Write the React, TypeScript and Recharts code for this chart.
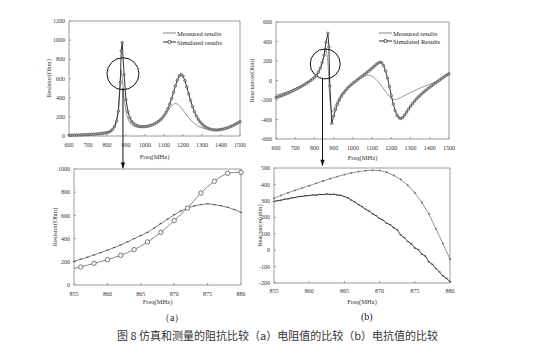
import {
  LineChart,
  Line,
  XAxis,
  YAxis,
  ReferenceArea,
  ReferenceDot,
  ReferenceLine,
  Legend,
} from "recharts";

const W = 533;
const H = 356;
const serif = "'Liberation Serif', 'DejaVu Serif', serif";

// ---- top row: 600-1500 MHz sweep ----
const freqTop = [
  600, 610, 620, 630, 640, 650, 660, 670, 680, 690,
  700, 710, 720, 730, 740, 750, 760, 770, 780, 790,
  800, 810, 820, 830, 840, 850, 860, 870, 875,
  880, 890, 900, 910, 920, 930, 940, 950, 960, 970, 980, 990,
  1000, 1010, 1020, 1030, 1040, 1050, 1060, 1070, 1080, 1090,
  1100, 1110, 1120, 1130, 1140, 1150, 1160, 1170, 1180, 1190,
  1200, 1210, 1220, 1230, 1240, 1250, 1260, 1270, 1280, 1290,
  1300, 1310, 1320, 1330, 1340, 1350, 1360, 1370, 1380, 1390,
  1400, 1410, 1420, 1430, 1440, 1450, 1460, 1470, 1480, 1490,
  1500,
];

const resMeasured = [
  5, 6, 6, 7, 8, 8, 9, 10, 11, 12,
  13, 14, 15, 17, 18, 20, 22, 25, 28, 31,
  35, 40, 50, 66, 95, 150, 270, 600, 690,
  620, 400, 255, 180, 140, 117, 104, 96, 92, 90, 90, 91,
  94, 98, 103, 110, 118, 128, 140, 154, 170, 190,
  212, 236, 262, 290, 314, 332, 340, 334, 318, 296,
  270, 243, 216, 191, 168, 148, 131, 116, 104, 94,
  86, 79, 74, 70, 68, 66, 65, 65, 66, 68,
  70, 74, 78, 84, 90, 98, 106, 115, 125, 135,
  145,
];

const resSimulated = [
  8, 8, 9, 9, 10, 10, 11, 12, 13, 14,
  15, 16, 17, 18, 20, 22, 24, 26, 29, 32,
  36, 42, 52, 70, 100, 155, 260, 560, 890,
  975, 640, 380, 255, 190, 152, 130, 116, 107, 101, 98, 97,
  98, 101, 105, 111, 118, 127, 138, 151, 167, 187,
  212, 244, 284, 332, 390, 455, 522, 584, 627, 643,
  625, 578, 512, 440, 370, 307, 254, 210, 175, 147,
  125, 107, 93, 82, 74, 68, 65, 63, 63, 65,
  68, 72, 77, 83, 90, 98, 107, 117, 127, 138,
  150,
];

const reactMeasured = [
  -150, -145, -140, -134, -128, -122, -115, -108, -100, -92,
  -84, -75, -66, -56, -46, -35, -23, -10, 4, 19,
  36, 56, 82, 118, 170, 255, 333, 192, 14,
  -191, -330, -300, -252, -208, -172, -142, -117, -96, -78, -61, -45,
  -30, -16, -3, 10, 22, 34, 45, 53, 56, 53,
  44, 30, 12, -9, -32, -57, -85, -114, -142, -166,
  -184, -194, -196, -192, -184, -174, -163, -153, -143, -133,
  -123, -113, -104, -95, -86, -78, -70, -62, -54, -46,
  -38, -30, -22, -13, -3, 8, 19, 30, 41, 52,
  62,
];

const reactSimulated = [
  -175, -169, -162, -155, -147, -139, -131, -122, -113, -103,
  -93, -83, -73, -62, -51, -39, -27, -14, 0, 15,
  32, 55, 85, 125, 185, 260, 392, 485, 348,
  -55, -440, -365, -300, -245, -200, -163, -132, -106, -84, -64, -46,
  -29, -13, 2, 17, 32, 47, 62, 78, 94, 110,
  127, 144, 161, 177, 188, 182, 152, 98, 25, -62,
  -155, -242, -310, -357, -383, -390, -378, -353, -323, -292,
  -263, -237, -213, -191, -170, -151, -133, -116, -100, -84,
  -69, -54, -39, -25, -11, 3, 17, 31, 45, 58,
  70,
];

// ---- bottom row: 855-880 MHz zoom ----
const freqZoom = [
  855, 856, 857, 858, 859, 860, 861, 862, 863, 864, 865, 866, 867,
  868, 869, 870, 871, 872, 873, 874, 875, 876, 877, 878, 879, 880,
];
const resSimZoom = [
  144, 155, 171, 187, 202, 218, 236, 256, 279, 305, 336, 371, 410,
  454, 503, 555, 609, 664, 728, 793, 848, 894, 935, 963, 970, 971,
];
const resMeasZoom = [
  204, 222, 240, 259, 279, 300, 322, 346, 372, 400, 427, 454, 491,
  529, 568, 606, 638, 664, 682, 693, 700, 693, 683, 670, 650, 626,
];
const reactSimZoom = [
  316, 333, 350, 364, 378, 392, 407, 421, 435, 448, 460, 470, 478,
  484, 486, 485, 474, 455, 430, 395, 348, 290, 220, 130, 40, -55,
];
const freqZoomFine = [
  855, 855.5, 856, 856.5, 857, 857.5, 858, 858.5, 859, 859.5,
  860, 860.5, 861, 861.5, 862, 862.5, 863, 863.5, 864, 864.5,
  865, 865.5, 866, 866.5, 867, 867.5, 868, 868.5, 869, 869.5,
  870, 870.5, 871, 871.5, 872, 872.5, 873, 873.5, 874, 874.5,
  875, 875.5, 876, 876.5, 877, 877.5, 878, 878.5, 879, 879.5,
  880,
];
const reactMeasZoom = [
  296, 301, 304, 310, 312, 318, 320, 326, 327, 331,
  332, 336, 335, 339, 338, 342, 339, 340, 335, 334,
  326, 318, 304, 292, 277, 265, 249, 238, 221, 210,
  193, 182, 164, 155, 136, 124, 92, 76, 53, 40,
  13, 4, -24, -36, -72, -86, -112, -132, -157, -172,
  -191,
];

const ticksTopX = [600, 700, 800, 900, 1000, 1100, 1200, 1300, 1400, 1500];
const ticksTopR = [0, 200, 400, 600, 800, 1000, 1200];
const ticksTopX2 = [-600, -400, -200, 0, 200, 400, 600];
const ticksZoomX = [855, 860, 865, 870, 875, 880];
const ticksZoomR = [0, 200, 400, 600, 800, 1000];
const ticksZoomX2 = [-200, -100, 0, 100, 200, 300, 400, 500];

const topRows = freqTop.map((f, i) => ({
  f,
  rm: resMeasured[i],
  rs: resSimulated[i],
  xm: reactMeasured[i],
  xs: reactSimulated[i],
}));
const zoomRows = freqZoom.map((f, i) => ({
  f,
  rs: resSimZoom[i],
  rm: resMeasZoom[i],
  xs: reactSimZoom[i],
}));
const zoomFineRows = freqZoomFine.map((f, i) => ({ f, xm: reactMeasZoom[i] }));

// plot box in page pixels -> chart margin
const marginFor = (l: number, t: number, r: number, b: number, yw: number, xh: number) => ({
  left: l - yw,
  top: t,
  right: W - r,
  bottom: H - b - xh,
});

const tickStyle = { fontSize: 6, fontFamily: serif, fill: "#333" };
const titleStyle = { fontSize: 6.5, fontFamily: serif, fill: "#333" };
const frame = "#9a9a9a";
const ink = "#111";
const simDot = { r: 1.25, fill: "#aaa", stroke: "#444", strokeWidth: 0.6 };

const arrowHead = (p: any) => (
  <path
    d={`M${p.cx - 2.2},${p.cy - 6}L${p.cx + 2.2},${p.cy - 6}L${p.cx},${p.cy}Z`}
    fill={ink}
  />
);

const evenDot = (p: any) =>
  p.payload.f % 2 === 0 ? (
    <circle key={`e${p.index}`} cx={p.cx} cy={p.cy} r={2.2} fill="#fff" stroke="#555" strokeWidth={0.8} />
  ) : (
    <g key={`e${p.index}`} />
  );

const tickDot = (p: any) => (
  <path key={`t${p.index}`} d={`M${p.cx - 1.2},${p.cy}L${p.cx + 1.2},${p.cy}`} stroke="#333" strokeWidth={0.8} />
);

type KeyRow = { label: string; color: string; marker: boolean };

function KeyBox({ rows, gap }: { rows: KeyRow[]; gap: number }) {
  return (
    <div style={{ fontFamily: serif, fontSize: 6.5, color: "#222" }}>
      {rows.map((r) => (
        <div key={r.label} style={{ display: "flex", alignItems: "center", height: gap }}>
          <svg width={13} height={6} style={{ marginRight: 1 }}>
            <line x1={0} x2={13} y1={3} y2={3} stroke={r.color} strokeWidth={1} />
            {r.marker && <circle cx={6.5} cy={3} r={1.6} fill="#fff" stroke={r.color} strokeWidth={0.8} />}
          </svg>
          <span>{r.label}</span>
        </div>
      ))}
    </div>
  );
}

const keyLeft: KeyRow[] = [
  { label: "Measured results", color: "#888", marker: false },
  { label: "Simulated results", color: "#333", marker: true },
];
const keyRight: KeyRow[] = [
  { label: "Measured results", color: "#888", marker: false },
  { label: "Simulated Results", color: "#333", marker: true },
];

const abs = { position: "absolute" as const, left: 0, top: 0 };

// excel-style ticks: short marks pointing into the plot
const xAxisCommon = {
  dataKey: "f",
  type: "number" as const,
  tick: tickStyle,
  tickSize: -2,
  axisLine: false,
  tickLine: { stroke: frame },
};
const yAxisCommon = {
  type: "number" as const,
  tick: tickStyle,
  tickSize: -2,
  tickMargin: 6,
  axisLine: false,
  tickLine: { stroke: frame },
};

export default function App() {
  return (
    <div style={{ ...abs, width: W, height: H, background: "#fff" }}>
      {/* (a) top: resistance */}
      <div style={abs}>
        <LineChart width={W} height={H} data={topRows} margin={marginFor(69, 21, 240, 136, 40, 23)}>
          <XAxis
            {...xAxisCommon}
            domain={[600, 1500]}
            ticks={ticksTopX}
            tickMargin={9}
            height={23}
            label={{ value: "Freq(MHz)", position: "insideBottom", offset: 0, ...titleStyle }}
          />
          <YAxis
            {...yAxisCommon}
            domain={[0, 1200]}
            ticks={ticksTopR}
            width={40}
            label={{ value: "Resistor(Ohm)", angle: -90, position: "center", ...titleStyle }}
          />
          <ReferenceArea x1={600} x2={1500} y1={0} y2={1200} fill="none" stroke={frame} strokeWidth={1} />
          <Line dataKey="rm" stroke="#8a8a8a" strokeWidth={0.9} dot={false} isAnimationActive={false} />
          <Line dataKey="rs" stroke="#333" strokeWidth={1} dot={simDot} isAnimationActive={false} />
          <ReferenceDot x={884} y={650} r={16} fill="none" stroke={ink} strokeWidth={1} ifOverflow="visible" />
          <ReferenceLine segment={[{ x: 884, y: 500 }, { x: 884, y: -340 }]} stroke={ink} strokeWidth={1} ifOverflow="visible" />
          <ReferenceDot x={884} y={-340} shape={arrowHead} ifOverflow="visible" />
          <Legend
            layout="vertical"
            align="center"
            verticalAlign="middle"
            wrapperStyle={{ left: 163, top: 28.5, width: 80 }}
            content={() => <KeyBox rows={keyLeft} gap={9} />}
          />
        </LineChart>
      </div>

      {/* (b) top: reactance */}
      <div style={abs}>
        <LineChart width={W} height={H} data={topRows} margin={marginFor(276, 22, 449, 139, 48, 21)}>
          <XAxis
            {...xAxisCommon}
            domain={[600, 1500]}
            ticks={ticksTopX}
            tickMargin={9}
            height={21}
            label={{ value: "Freq(MHz)", position: "insideBottom", offset: 0, ...titleStyle }}
          />
          <YAxis
            {...yAxisCommon}
            domain={[-600, 600]}
            ticks={ticksTopX2}
            width={48}
            label={{ value: "Reactance(Ohm)", angle: -90, position: "center", ...titleStyle }}
          />
          <ReferenceArea x1={600} x2={1500} y1={-600} y2={600} fill="none" stroke={frame} strokeWidth={1} />
          <Line dataKey="xm" stroke="#8a8a8a" strokeWidth={0.9} dot={false} isAnimationActive={false} />
          <Line dataKey="xs" stroke="#333" strokeWidth={1} dot={simDot} isAnimationActive={false} />
          <ReferenceDot x={856} y={170} r={15} fill="none" stroke={ink} strokeWidth={1} ifOverflow="visible" />
          <ReferenceLine segment={[{ x: 842, y: 20 }, { x: 842, y: -875 }]} stroke={ink} strokeWidth={1} ifOverflow="visible" />
          <ReferenceDot x={842} y={-875} shape={arrowHead} ifOverflow="visible" />
          <Legend
            layout="vertical"
            align="center"
            verticalAlign="middle"
            wrapperStyle={{ left: 379, top: 29, width: 80 }}
            content={() => <KeyBox rows={keyRight} gap={8} />}
          />
        </LineChart>
      </div>

      {/* (a) bottom: resistance zoom */}
      <div style={abs}>
        <LineChart width={W} height={H} data={zoomRows} margin={marginFor(74, 169, 241, 285, 38, 19)}>
          <XAxis
            {...xAxisCommon}
            domain={[855, 880]}
            ticks={ticksZoomX}
            tickMargin={9}
            height={19}
            label={{ value: "Freq(MHz)", position: "insideBottom", offset: 0, ...titleStyle }}
          />
          <YAxis
            {...yAxisCommon}
            domain={[0, 1000]}
            ticks={ticksZoomR}
            width={38}
            label={{ value: "Resistor(Ohm)", angle: -90, position: "center", ...titleStyle }}
          />
          <ReferenceArea x1={855} x2={880} y1={0} y2={1000} fill="none" stroke={frame} strokeWidth={1} />
          <Line dataKey="rm" stroke="#777" strokeWidth={0.9} dot={tickDot} isAnimationActive={false} />
          <Line dataKey="rs" stroke="#777" strokeWidth={0.9} dot={evenDot} isAnimationActive={false} />
        </LineChart>
      </div>

      {/* (b) bottom: reactance zoom */}
      <div style={abs}>
        <LineChart width={W} height={H} margin={marginFor(274, 168, 450, 283, 28, 21)}>
          <XAxis
            {...xAxisCommon}
            domain={[855, 880]}
            ticks={ticksZoomX}
            tickMargin={8}
            height={21}
            allowDuplicatedCategory={false}
            label={{ value: "Freq(MHz)", position: "insideBottom", offset: 0, ...titleStyle }}
          />
          <YAxis
            {...yAxisCommon}
            domain={[-200, 500]}
            ticks={ticksZoomX2}
            width={28}
            label={{ value: "Reactance(ohm)", angle: -90, position: "center", ...titleStyle }}
          />
          <ReferenceArea x1={855} x2={880} y1={-200} y2={500} fill="none" stroke={frame} strokeWidth={1} />
          <Line
            data={zoomRows}
            dataKey="xs"
            stroke="#888"
            strokeWidth={0.9}
            dot={{ r: 0.9, fill: "#666", stroke: "none" }}
            isAnimationActive={false}
          />
          <Line data={zoomFineRows} dataKey="xm" stroke="#333" strokeWidth={0.9} dot={tickDot} isAnimationActive={false} />
        </LineChart>
      </div>

      <div style={{ position: "absolute", left: 160, top: 311, fontFamily: serif, fontSize: 10, color: "#222" }}>
        （a）
      </div>
      <div style={{ position: "absolute", left: 361, top: 311, fontFamily: serif, fontSize: 10, color: "#222" }}>
        (b)
      </div>
      <div
        style={{
          position: "absolute",
          left: 0,
          width: W,
          top: 327,
          textAlign: "center",
          fontFamily: "'Noto Sans CJK SC', sans-serif",
          fontSize: 11,
          color: "#333",
          paddingLeft: 22,
          boxSizing: "border-box",
        }}
      >
        图 8 仿真和测量的阻抗比较（a）电阻值的比较（b）电抗值的比较
      </div>
    </div>
  );
}
